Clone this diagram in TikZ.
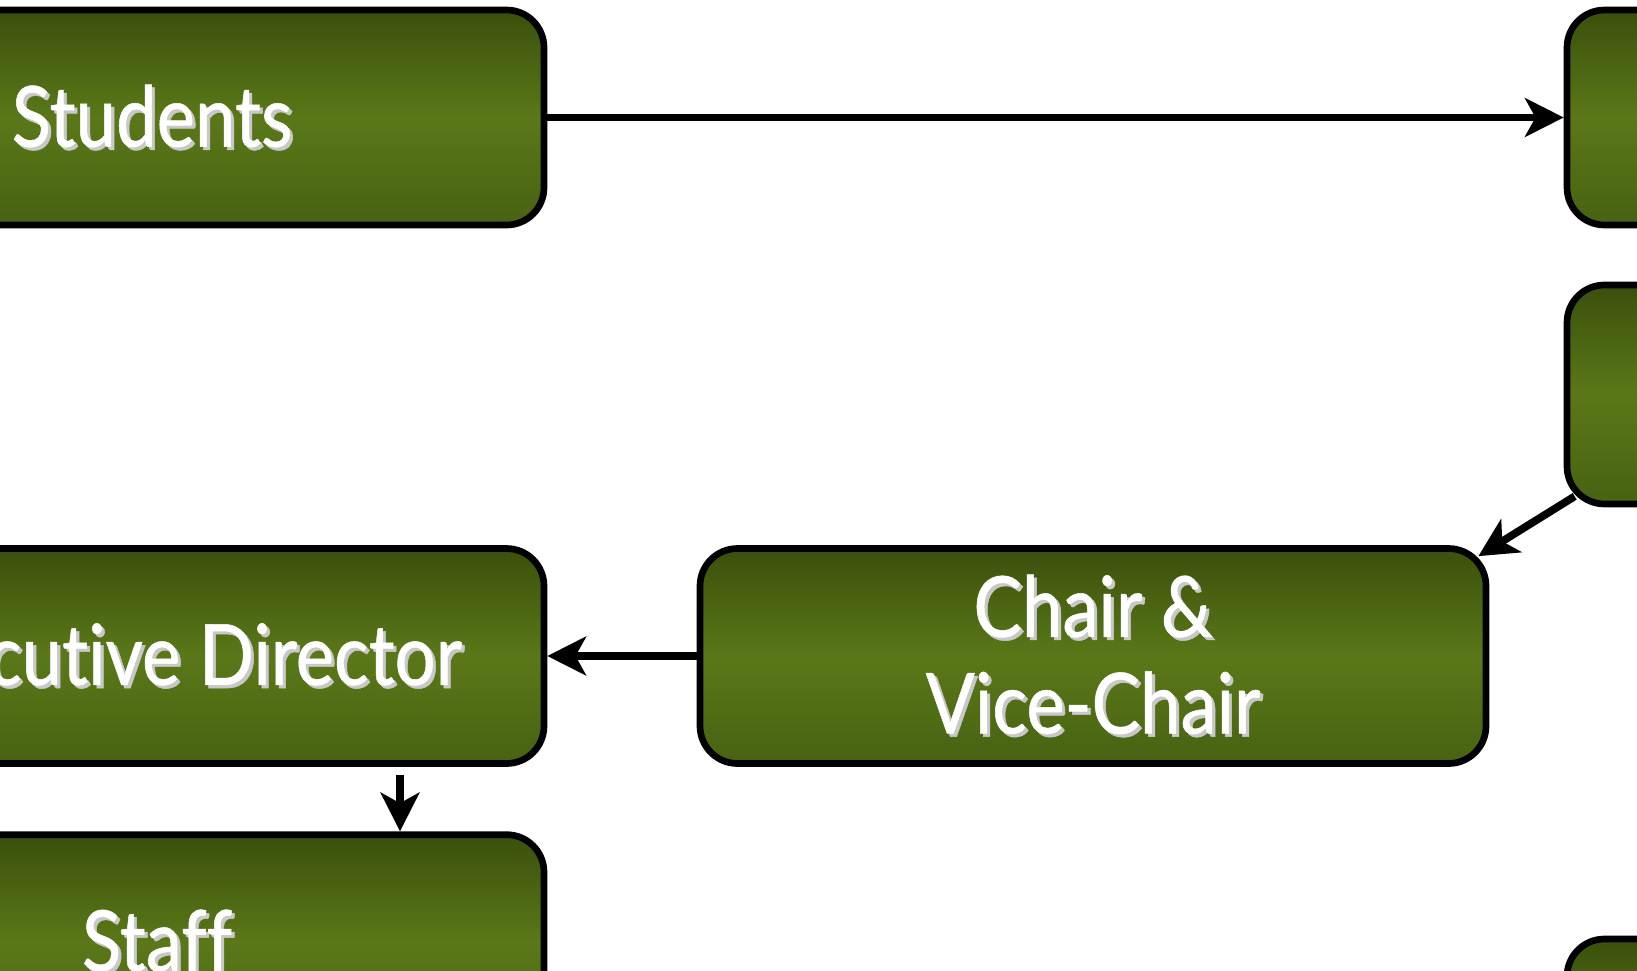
\documentclass[tikz,border=0pt]{standalone}
\usepackage{fontspec}
\setmainfont[FakeStretch=0.86,FakeBold=0.6,Ligatures=NoCommon]{Lato}
\usetikzlibrary{arrows.meta,positioning}

\definecolor{leafdark}{RGB}{58,80,12}
\definecolor{leafmid}{RGB}{90,120,24}
\definecolor{leafbot}{RGB}{72,98,18}
\definecolor{shadowgray}{RGB}{200,200,200}

% white text with a light drop shadow
\newcommand{\shadowed}[1]{\leavevmode\rlap{\hspace{1.8pt}\raisebox{-1.8pt}{\textcolor{shadowgray}{#1}}}#1}

\tikzset{
  leafbox/.style={draw=black, line width=3.8pt, rounded corners=0.75cm,
    minimum width=15.48cm, minimum height=4.3cm,
    top color=leafdark, bottom color=leafbot, middle color=leafmid,
    text=white, font=\fontsize{48}{55}\selectfont, align=center},
  link/.style={line width=4.4pt, -{Stealth[length=22pt,width=22pt,inset=6pt]}}
}

\begin{document}
\begin{tikzpicture}
  \useasboundingbox (0,0) rectangle (32.74,-19.4);

  % Left column
  \node[leafbox] (students) at (3.14,-2.35) {\shadowed{Students}\hspace*{0.2cm}};
  \node[leafbox] (exec) at (3.14,-13.12) {\hspace*{0.4cm}\shadowed{Executive Director}};
  \node[leafbox, below=1.29cm of exec] (staff) {\shadowed{Staff}};

  % Middle
  \node[leafbox, minimum width=15.72cm] (chair) at (21.86,-13.12)
    {\shadowed{Chair \&}\\\shadowed{Vice-Chair}};

  % Right column (cut off by the page edge)
  \node[leafbox] (board) at (39.08,-2.35) {};
  \node[leafbox, minimum height=4.38cm] (members) at (39.08,-7.89) {};
  \node[leafbox] (others) at (39.08,-20.93) {};

  % Connectors
  \draw[link] (students.east) -- (board.west);
  \draw[link] ([shift={(0.22,0.22)}]members.south west) -- ([shift={(-0.22,-0.22)}]chair.north east);
  \draw[link] (chair.west) -- (exec.east);
  \draw[link, shorten <=0.16cm] ([xshift=4.86cm]exec.south) -- ([xshift=4.86cm]staff.north);
\end{tikzpicture}
\end{document}
